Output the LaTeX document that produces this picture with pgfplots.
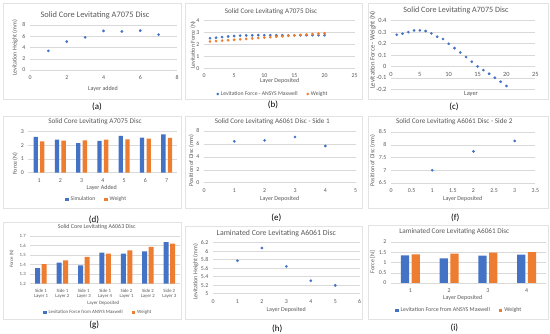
\documentclass[border=0pt]{standalone}
\usepackage{pgfplots}
\pgfplotsset{compat=1.18}
\usepackage{fontspec}
\setmainfont{Carlito}
\definecolor{xblue}{HTML}{4472C4}
\definecolor{xorange}{HTML}{ED7D31}
\definecolor{txt}{HTML}{595959}
\definecolor{gridc}{HTML}{D9D9D9}
\definecolor{boxc}{HTML}{E3E3E3}
\newcommand\fs[1]{\fontsize{#1}{#1}\selectfont}
\pgfplotsset{
  excel/.style={
    scale only axis, anchor=south west,
    axis line style={draw=none},
    major tick length=0pt,
    ymajorgrids, grid style={gridc, line width=0.4pt},
    tick label style={font=\fs{5.9}, text=txt},
    /pgf/number format/assume math mode=true,
    xticklabel style={yshift=-2pt},
    yticklabel style={xshift=-1pt},
  },
  sc/.style={only marks, mark=*, mark size=1.15pt, color=xblue},
  scleg/.style={legend image code/.code={\draw[##1] plot coordinates {(1.5pt,0pt)};}},
  barleg/.style={legend image code/.code={\fill[##1] (0pt,-1.7pt) rectangle (3.4pt,1.7pt);}},
  xleg/.style={legend columns=2, legend style={draw=none, fill=none, font=\fs{5.7}, text=txt, anchor=center, /tikz/every even column/.append style={column sep=7pt}}},
}
\tikzset{
  ttl/.style={text=txt, inner sep=0pt},
  lab/.style={text=txt, inner sep=0pt, font=\fs{6}},
  capt/.style={text=black, inner sep=0pt, font=\fs{9}},
}
\begin{document}
\begin{tikzpicture}[x=1pt,y=1pt]
\fill[white] (0,0) rectangle (550,334);
\path[use as bounding box] (0,0) rectangle (550,334);
% frames
\draw[boxc, line width=0.5pt] (3,235) rectangle (181,331);
\draw[boxc, line width=0.5pt] (185,235) rectangle (362,331);
\draw[boxc, line width=0.5pt] (368,235) rectangle (548,331);
\draw[boxc, line width=0.5pt] (3,126) rectangle (181,218);
\draw[boxc, line width=0.5pt] (185,126) rectangle (362,218);
\draw[boxc, line width=0.5pt] (368,126) rectangle (548,218);
\draw[boxc, line width=0.5pt] (3,15) rectangle (181,112);
\draw[boxc, line width=0.5pt] (185,15) rectangle (362,108);
\draw[boxc, line width=0.5pt] (368,15) rectangle (548,109);

% (a)
\begin{axis}[excel, at={(30pt,264pt)}, width=147pt, height=45pt,
  xmin=0, xmax=8, ymin=0, ymax=8, xtick={0,2,4,6,8}, ytick={0,2,4,6,8}]
\addplot[sc] coordinates {(1,3.4)(2,5.05)(3,5.8)(4,6.95)(5,6.85)(6,7.0)(7,6.3)};
\end{axis}
\node[ttl, font=\fs{8.4}] at (95,319) {Solid Core Levitating A7075 Disc};
\node[lab] at (103,245) {Layer added};
\node[lab, rotate=90] at (15,286) {Levitation Height (mm)};
\node[capt] at (97,227) {(a)};

% (b)
\begin{axis}[excel, xleg, scleg, at={(204pt,265.7pt)}, width=150.7pt, height=47.6pt,
  xmin=0, xmax=25, ymin=0, ymax=4, xtick={0,5,10,15,20,25}, ytick={0,1,2,3,4},
  legend style={at={(axis description cs:0.458,-0.54)}}]
\addplot[sc] coordinates {(1,2.527)(2,2.573)(3,2.624)(4,2.675)(5,2.712)(6,2.744)(7,2.760)(8,2.768)(9,2.785)(10,2.780)(11,2.778)(12,2.777)(13,2.774)(14,2.770)(15,2.766)(16,2.771)(17,2.775)(18,2.777)(19,2.779)(20,2.779)};
\addlegendentry{Levitation Force - ANSYS Maxwell}
\addplot[sc, color=xorange] coordinates {(1,2.250)(2,2.287)(3,2.324)(4,2.360)(5,2.397)(6,2.434)(7,2.471)(8,2.508)(9,2.545)(10,2.582)(11,2.618)(12,2.655)(13,2.692)(14,2.729)(15,2.766)(16,2.803)(17,2.839)(18,2.876)(19,2.913)(20,2.950)};
\addlegendentry{Weight}
\end{axis}
\node[ttl, font=\fs{7.1}] at (271,322.3) {Solid Core Levitating A7075 Disc};
\node[lab] at (279.7,253.3) {Layer Deposited};
\node[lab, rotate=90] at (193,289) {Levitation Force (N)};
\node[capt] at (273,229) {(b)};

% (c)
\begin{axis}[excel, at={(391pt,244.7pt)}, width=144.3pt, height=68.6pt,
  axis x line=middle, axis y line=left, axis line style={draw=none},
  hide obscured x ticks=false, hide obscured y ticks=false,
  tick label style={font=\fs{6.4}},
  xmin=0, xmax=25, ymin=-0.2, ymax=0.4, xtick={0,5,10,15,20,25},
  ytick={-0.2,-0.1,0,0.1,0.2,0.3,0.4}]
\addplot[sc] coordinates {(1,0.277)(2,0.286)(3,0.300)(4,0.315)(5,0.315)(6,0.310)(7,0.289)(8,0.260)(9,0.240)(10,0.198)(11,0.160)(12,0.122)(13,0.082)(14,0.041)(15,0.0)(16,-0.032)(17,-0.064)(18,-0.099)(19,-0.134)(20,-0.171)};
\end{axis}
\node[ttl, font=\fs{8.1}] at (456,323.3) {Solid Core Levitating A7075 Disc};
\node[lab, font=\fs{6.4}] at (471,239.7) {Layer};
\node[lab, font=\fs{6.7}, rotate=90] at (372.7,284) {Levitation Force - Weight (N)};
\node[capt] at (454,227) {(c)};

% (d)
\begin{axis}[excel, xleg, barleg, at={(28.4pt,161.3pt)}, width=148.9pt, height=41.4pt,
  xmin=0.5, xmax=7.5, ymin=0, ymax=3, xtick={1,2,3,4,5,6,7}, ytick={0,1,2,3},
  legend style={at={(axis description cs:0.459,-0.643)}}]
\addplot[ybar, bar width=4.3pt, bar shift=-3.3pt, fill=xblue, draw=none] coordinates {(1,2.59)(2,2.40)(3,2.15)(4,2.30)(5,2.66)(6,2.54)(7,2.78)};
\addlegendentry{Simulation}
\addplot[ybar, bar width=4.3pt, bar shift=3.3pt, fill=xorange, draw=none] coordinates {(1,2.27)(2,2.32)(3,2.35)(4,2.40)(5,2.42)(6,2.47)(7,2.52)};
\addlegendentry{Weight}
\end{axis}
\node[ttl, font=\fs{7.2}] at (95,212) {Solid Core Levitating A7075 Disc};
\node[lab] at (101.7,146.3) {Layer Added};
\node[lab, rotate=90] at (15,170.3) {Force (N)};
\node[capt] at (94,114) {(d)};

% (e)
\begin{axis}[excel, at={(204pt,151.3pt)}, width=151.7pt, height=51.7pt,
  xmin=0, xmax=5, ymin=0, ymax=8, xtick={0,1,2,3,4,5}, ytick={0,2,4,6,8}]
\addplot[sc] coordinates {(1,6.4)(2,6.55)(3,7.07)(4,5.68)};
\end{axis}
\node[ttl, font=\fs{7.1}] at (272.3,212) {Solid Core Levitating A6061 Disc - Side 1};
\node[lab] at (279.7,134.7) {Layer Deposited};
\node[lab, rotate=90] at (191.3,173.7) {Position of Disc (mm)};
\node[capt] at (276.3,116) {(e)};

% (f)
\begin{axis}[excel, at={(391pt,151pt)}, width=144.3pt, height=51pt,
  xmin=0, xmax=3.5, ymin=6.5, ymax=8.5, xtick={0,0.5,1,1.5,2,2.5,3,3.5},
  ytick={6.5,7,7.5,8,8.5}]
\addplot[sc] coordinates {(1,7.0)(2,7.74)(3,8.15)};
\end{axis}
\node[ttl, font=\fs{7.2}] at (454.3,212) {Solid Core Levitating A6061 Disc - Side 2};
\node[lab] at (462.7,134.7) {Layer Deposited};
\node[lab, rotate=90] at (372.7,173.7) {Position of Disc (mm)};
\node[capt] at (455.3,116) {(f)};

% (g)
\begin{axis}[excel, xleg, barleg, at={(30.3pt,50.3pt)}, width=149.7pt, height=47.7pt,
  xmin=0.5, xmax=7.5, ymin=1.2, ymax=1.7, xtick={1,2,3,4,5,6,7},
  ytick={1.2,1.3,1.4,1.5,1.6,1.7},
  tick label style={font=\fs{4.8}},
  xticklabel style={align=center},
  xticklabels={{Side 1\\Layer 1},{Side 1\\Layer 2},{Side 1\\Layer 3},{Side 1\\Layer 4},{Side 2\\Layer 1},{Side 2\\Layer 2},{Side 2\\Layer 3}},
  legend style={at={(axis description cs:0.454,-0.608)}, font=\fs{4.9}}]
\addplot[ybar, bar width=5pt, bar shift=-3.25pt, fill=xblue, draw=none] coordinates {(1,1.364)(2,1.42)(3,1.392)(4,1.525)(5,1.515)(6,1.54)(7,1.637)};
\addlegendentry{Levitation Force from ANSYS Maxwell}
\addplot[ybar, bar width=5pt, bar shift=3.25pt, fill=xorange, draw=none] coordinates {(1,1.406)(2,1.445)(3,1.48)(4,1.515)(5,1.55)(6,1.585)(7,1.62)};
\addlegendentry{Weight}
\end{axis}
\node[ttl, font=\fs{6.0}] at (96.7,107) {Solid Core Levitating A6063 Disc};
\node[lab, font=\fs{4.9}] at (103.3,31.3) {Layer Deposited};
\node[lab, font=\fs{4.9}, rotate=90] at (11.7,75.3) {Force (N)};
\node[capt] at (94.3,8.7) {(g)};

% (h)
\begin{axis}[excel, at={(213pt,40.3pt)}, width=146.7pt, height=51pt,
  xmin=0, xmax=6, ymin=5, ymax=6.2, xtick={0,1,2,3,4,5,6},
  ytick={5,5.2,5.4,5.6,5.8,6,6.2}]
\addplot[sc] coordinates {(1,5.776)(2,6.075)(3,5.643)(4,5.306)(5,5.196)};
\end{axis}
\node[ttl, font=\fs{7.8}] at (276.3,100.3) {Laminated Core Levitating A6061 Disc};
\node[lab] at (286.3,24.3) {Layer Deposited};
\node[lab, rotate=90] at (195.7,62) {Levitation Height (mm)};
\node[capt] at (277.3,5.3) {(h)};

% (i)
\begin{axis}[excel, xleg, barleg, at={(391pt,51pt)}, width=155pt, height=41pt,
  xmin=0.5, xmax=4.5, ymin=0, ymax=2, xtick={1,2,3,4}, ytick={0,0.5,1,1.5,2},
  legend style={at={(axis description cs:0.441,-0.666)}, font=\fs{5.9}}]
\addplot[ybar, bar width=8.3pt, bar shift=-5.3pt, fill=xblue, draw=none] coordinates {(1,1.35)(2,1.20)(3,1.33)(4,1.38)};
\addlegendentry{Levitation Force from ANSYS Maxwell}
\addplot[ybar, bar width=8.3pt, bar shift=5.3pt, fill=xorange, draw=none] coordinates {(1,1.40)(2,1.43)(3,1.48)(4,1.51)};
\addlegendentry{Weight}
\end{axis}
\node[ttl, font=\fs{7.2}] at (454.3,102) {Laminated Core Levitating A6061 Disc};
\node[lab] at (462.7,36) {Layer Deposited};
\node[lab, rotate=90] at (372.7,72) {Force [N]};
\node[capt] at (454.3,6) {(i)};
\end{tikzpicture}
\end{document}
